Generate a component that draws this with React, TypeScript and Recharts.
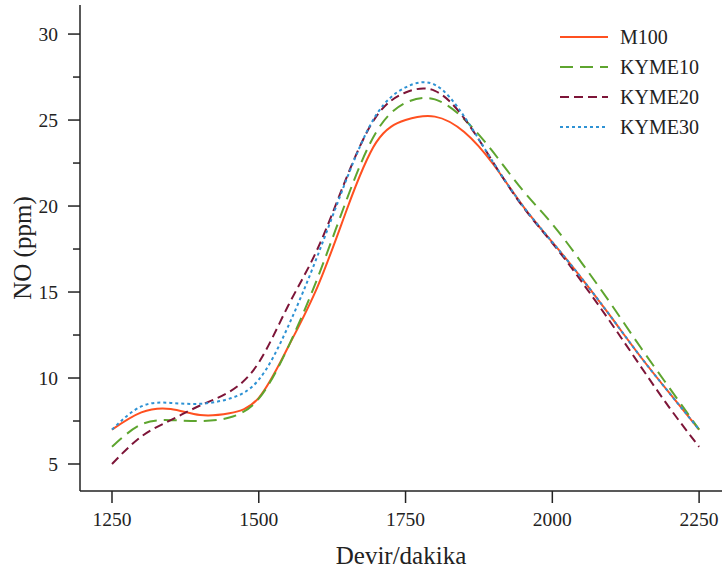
import { Legend, Line, LineChart, XAxis, YAxis } from 'recharts'

const rpm = [
  1250, 1300, 1350, 1400, 1450, 1500, 1550, 1600, 1650, 1700, 1750,
  1800, 1850, 1900, 1950, 2000, 2050, 2100, 2150, 2200, 2250,
]
const m100 = [
  7.0, 8.0, 8.2, 7.85, 7.95, 8.85, 11.8, 15.3, 19.8, 23.7, 25.0,
  25.2, 24.3, 22.4, 20.0, 17.9, 15.8, 13.55, 11.25, 9.1, 7.0,
]
const kyme10 = [
  6.0, 7.3, 7.55, 7.5, 7.7, 8.8, 11.8, 15.8, 20.4, 24.3, 26.0,
  26.2, 25.05, 23.1, 20.9, 18.95, 16.7, 14.3, 11.8, 9.4, 7.0,
]
const kyme20 = [
  5.0, 6.6, 7.55, 8.4, 9.2, 10.9, 14.2, 17.5, 21.7, 25.2, 26.6,
  26.7, 25.1, 22.5, 19.95, 17.85, 15.6, 13.2, 10.7, 8.25, 6.0,
]
const kyme30 = [
  7.0, 8.35, 8.55, 8.5, 8.8, 9.9, 13.0, 17.1, 21.6, 25.3, 26.9,
  27.05, 25.2, 22.5, 20.0, 17.9, 15.8, 13.55, 11.25, 9.1, 7.0,
]

const xTicks = [1250, 1500, 1750, 2000, 2250]
const yTicks = [5, 7.5, 10, 12.5, 15, 17.5, 20, 22.5, 25, 27.5, 30]

const series = [
  { key: 'M100', values: m100, color: '#FF5020', dash: undefined },
  { key: 'KYME10', values: kyme10, color: '#5EA52F', dash: '13 7' },
  { key: 'KYME20', values: kyme20, color: '#7D1538', dash: '9 5' },
  { key: 'KYME30', values: kyme30, color: '#2E92D4', dash: '3 3' },
]

const data = rpm.map((r, i) => {
  const row: Record<string, number> = { rpm: r }
  series.forEach((s) => {
    row[s.key] = s.values[i]
  })
  return row
})

const FONT = '"Liberation Serif", "Times New Roman", serif'
const AXIS = '#222'
const TICK = 12
const GAP = 10

const YTick = (props: any) => {
  const { x, y, payload } = props
  const axisX = x + TICK + GAP
  const major = payload.value % 5 === 0
  return (
    <g>
      <line x1={axisX - (major ? TICK : 7)} x2={axisX} y1={y} y2={y} stroke={AXIS} strokeWidth={1.5} />
      {major && (
        <text x={x} y={y} dy="0.35em" textAnchor="end" fill={AXIS} fontSize={19.5} fontFamily={FONT}>
          {payload.value}
        </text>
      )}
    </g>
  )
}

const renderLegend = () => (
  <div style={{ fontFamily: FONT, fontSize: 20, color: AXIS }}>
    {series.map((s) => (
      <div key={s.key} style={{ display: 'flex', alignItems: 'center', height: 30 }}>
        <svg width={64} height={30}>
          <line x1={4} x2={52} y1={15} y2={15} stroke={s.color} strokeWidth={2} strokeDasharray={s.dash} />
        </svg>
        <span>{s.key}</span>
      </div>
    ))}
  </div>
)

export default function App() {
  return (
    <div style={{ position: 'absolute', left: 0, top: 0, background: '#fff' }}>
      <LineChart width={722} height={570} data={data} margin={{ top: 5, right: 0, left: 0, bottom: 0 }}>
        <XAxis
          dataKey="rpm"
          type="number"
          domain={[1195.5, 2289]}
          ticks={xTicks}
          allowDataOverflow
          height={79}
          tickSize={TICK}
          tickMargin={9}
          stroke={AXIS}
          strokeWidth={1.5}
          tick={{ fill: AXIS, fontSize: 19.5, fontFamily: FONT }}
          label={{
            value: 'Devir/dakika',
            position: 'insideBottom',
            offset: 6,
            style: { fill: AXIS, fontSize: 25, fontFamily: FONT },
          }}
        />
        <YAxis
          type="number"
          domain={[3.43, 31.69]}
          ticks={yTicks}
          allowDataOverflow
          interval={0}
          width={80}
          tickSize={TICK}
          tickMargin={GAP}
          tickLine={false}
          stroke={AXIS}
          strokeWidth={1.5}
          tick={<YTick />}
          label={{
            value: 'NO (ppm)',
            angle: -90,
            position: 'insideLeft',
            offset: 22,
            style: { textAnchor: 'middle', fill: AXIS, fontSize: 25, fontFamily: FONT },
          }}
        />
        <Legend
          layout="vertical"
          verticalAlign="middle"
          align="center"
          content={renderLegend}
          wrapperStyle={{ top: 22, left: 556, width: 166 }}
        />
        {series.map((s) => (
          <Line
            key={s.key}
            dataKey={s.key}
            type="natural"
            stroke={s.color}
            strokeWidth={2}
            strokeDasharray={s.dash}
            dot={false}
            activeDot={false}
            isAnimationActive={false}
          />
        ))}
      </LineChart>
    </div>
  )
}
